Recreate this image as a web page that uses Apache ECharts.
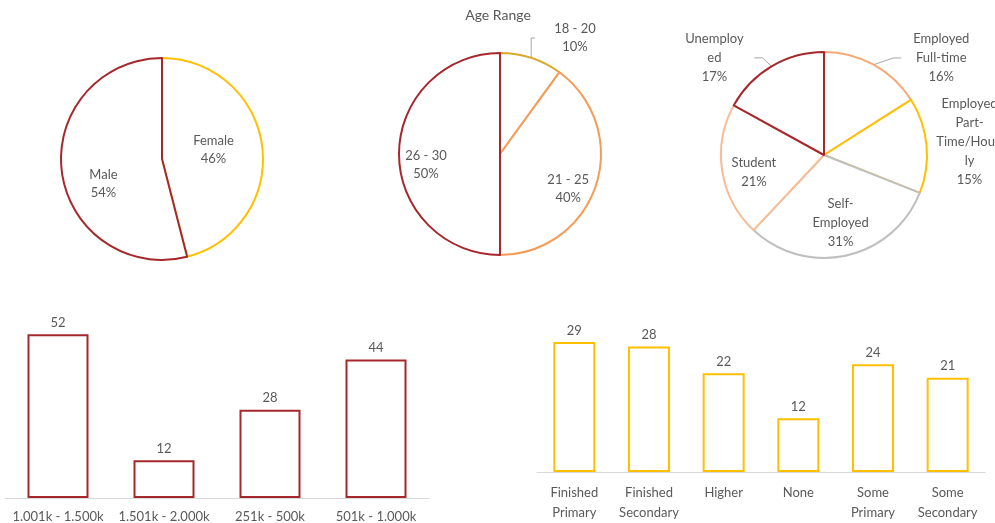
<!DOCTYPE html>
<html>
<head>
<meta charset="utf-8">
<script src="https://cdn.jsdelivr.net/npm/echarts@6/dist/echarts.min.js"></script>
<style>
  html, body { margin: 0; padding: 0; background: #fff; }
  #chart { width: 995px; height: 523px; }
</style>
</head>
<body>
<div id="chart"></div>
<script>
const genderNames = ['Female', 'Male'];
const genderValues = [46, 54];

const ageNames = ['18 - 20', '21 - 25', '26 - 30'];
const ageValues = [10, 40, 50];

const jobNames = ['Employed Full-time', 'Employed Part-Time/Hourly', 'Self-Employed', 'Student', 'Unemployed'];
const jobLabels = ['Employed\nFull-time', 'Employed\nPart-\nTime/Hourl\nly', 'Self-\nEmployed', 'Student', 'Unemploy\ned'];
const jobValues = [16, 15, 31, 21, 17];

const incomeCats = ['1.001k - 1.500k', '1.501k - 2.000k', '251k - 500k', '501k - 1.000k'];
const incomeValues = [52, 12, 28, 44];

const eduCats = ['Finished\nPrimary', 'Finished\nSecondary', 'Higher', 'None', 'Some\nPrimary', 'Some\nSecondary'];
const eduValues = [29, 28, 22, 12, 24, 21];

const TEXT = '#595959';
const FONT = 'Lato';
const RED = '#A5282C';
const GOLD = '#FFC000';

const genderColors = [GOLD, RED];
const ageColors = ['#D9A82E', '#F49C5A', RED];
const jobColors = ['#F5A878', GOLD, '#BFBFBF', '#F7BC94', RED];

const chart = echarts.init(document.getElementById('chart'));

// nudge a label like Excel's best-fit does, keeping multi-line text centred
function nudge(shift) {
    return p => {
        const s = shift[p.dataIndex] || [0, 0];
        const r = p.labelRect;
        return {
            x: r.x + r.width / 2 + s[0],
            y: r.y + r.height / 2 + s[1],
            align: 'center',
            verticalAlign: 'middle'
        };
    };
}

// outline-only pie + a transparent twin that only carries the inside labels
function pieSeries(names, values, colors, opts) {
    const outside = opts.outside || {};
    const shift = opts.shift || {};
    const text = i => (opts.labels ? opts.labels[i] : names[i]);
    const main = {
        type: 'pie',
        center: opts.center,
        radius: [0, opts.r],
        silent: true,
        label: { show: false },
        labelLine: { show: false },
        data: names.map((n, i) => {
            const item = {
                name: n,
                value: values[i],
                itemStyle: { color: '#fff', borderColor: colors[i], borderWidth: 2 }
            };
            if (outside[i]) {
                item.label = {
                    show: true,
                    position: 'outside',
                    color: TEXT,
                    fontFamily: FONT,
                    fontSize: 13,
                    width: 80,
                    overflow: 'none',
                    lineHeight: opts.lineHeight,
                    formatter: p => text(i) + '\n' + p.percent + '%'
                };
                item.labelLine = {
                    show: outside[i].line,
                    length: outside[i].l1,
                    length2: outside[i].l2,
                    smooth: false,
                    lineStyle: { color: '#A6A6A6', width: 1 }
                };
            }
            return item;
        }),
        labelLayout: nudge(shift)
    };
    const labels = {
        type: 'pie',
        center: opts.center,
        radius: [opts.labelR0, opts.r],
        silent: true,
        itemStyle: { color: 'rgba(0,0,0,0)', borderWidth: 0 },
        label: {
            show: true,
            position: 'inside',
            color: TEXT,
            fontFamily: FONT,
            fontSize: 13,
            lineHeight: opts.lineHeight,
            formatter: p => text(p.dataIndex) + '\n' + p.percent + '%'
        },
        labelLine: { show: false },
        labelLayout: nudge(shift),
        data: names.map((n, i) => ({
            name: n,
            value: values[i],
            label: { show: !outside[i] }
        }))
    };
    return [main, labels];
}

const barLabel = {
    show: true,
    position: 'top',
    distance: 5,
    color: TEXT,
    fontFamily: FONT,
    fontSize: 13
};

const option = {
    animation: false,
    title: {
        text: 'Age Range',
        left: 493,
        top: 3,
        textAlign: 'center',
        textStyle: { color: TEXT, fontFamily: FONT, fontSize: 14, fontWeight: 'normal' }
    },
    grid: [
        { left: 5, right: 566, top: 309, bottom: 25 },
        { left: 537, right: 10, top: 315, bottom: 51 }
    ],
    xAxis: [
        {
            gridIndex: 0,
            type: 'category',
            data: incomeCats,
            axisLine: { lineStyle: { color: '#D9D9D9' } },
            axisTick: { show: false },
            axisLabel: { color: TEXT, fontFamily: FONT, fontSize: 13, margin: 12, interval: 0 }
        },
        {
            gridIndex: 1,
            type: 'category',
            data: eduCats,
            axisLine: { lineStyle: { color: '#D9D9D9' } },
            axisTick: { show: false },
            axisLabel: { color: TEXT, fontFamily: FONT, fontSize: 13, lineHeight: 20, margin: 11, interval: 0 }
        }
    ],
    yAxis: [
        { gridIndex: 0, type: 'value', min: 0, max: 60, show: false },
        { gridIndex: 1, type: 'value', min: 0, max: 35, show: false }
    ],
    series: [
        ...pieSeries(genderNames, genderValues, genderColors, {
            center: [162, 159], r: 101, labelR0: 11, lineHeight: 18,
            shift: { 0: [-7, -2], 1: [0, 17] }
        }),
        ...pieSeries(ageNames, ageValues, ageColors, {
            center: [500, 154], r: 101, labelR0: 49, lineHeight: 18,
            outside: { 0: { line: true, l1: 22, l2: 6 } },
            shift: { 0: [-14, 1], 1: [-6, 11], 2: [4, 11] }
        }),
        ...pieSeries(jobNames, jobValues, jobColors, {
            center: [824, 155], r: 103, labelR0: 43, lineHeight: 19, labels: jobLabels,
            outside: {
                0: { line: true, l1: 18, l2: 8 },
                1: { line: false, l1: 3, l2: 3 },
                4: { line: true, l1: 18, l2: 8 }
            },
            shift: { 0: [6, 9], 1: [-8, -3], 2: [0, -6], 3: [5, 5], 4: [5, 7] }
        }),
        {
            type: 'bar',
            xAxisIndex: 0,
            yAxisIndex: 0,
            data: incomeValues,
            barWidth: 61,
            silent: true,
            itemStyle: { color: '#fff', borderColor: RED, borderWidth: 2 },
            label: barLabel
        },
        {
            type: 'bar',
            xAxisIndex: 1,
            yAxisIndex: 1,
            data: eduValues,
            barWidth: 42,
            silent: true,
            itemStyle: { color: '#fff', borderColor: GOLD, borderWidth: 2 },
            label: barLabel
        }
    ]
};

chart.setOption(option);
window.addEventListener('resize', chart.resize);
</script>
</body>
</html>
